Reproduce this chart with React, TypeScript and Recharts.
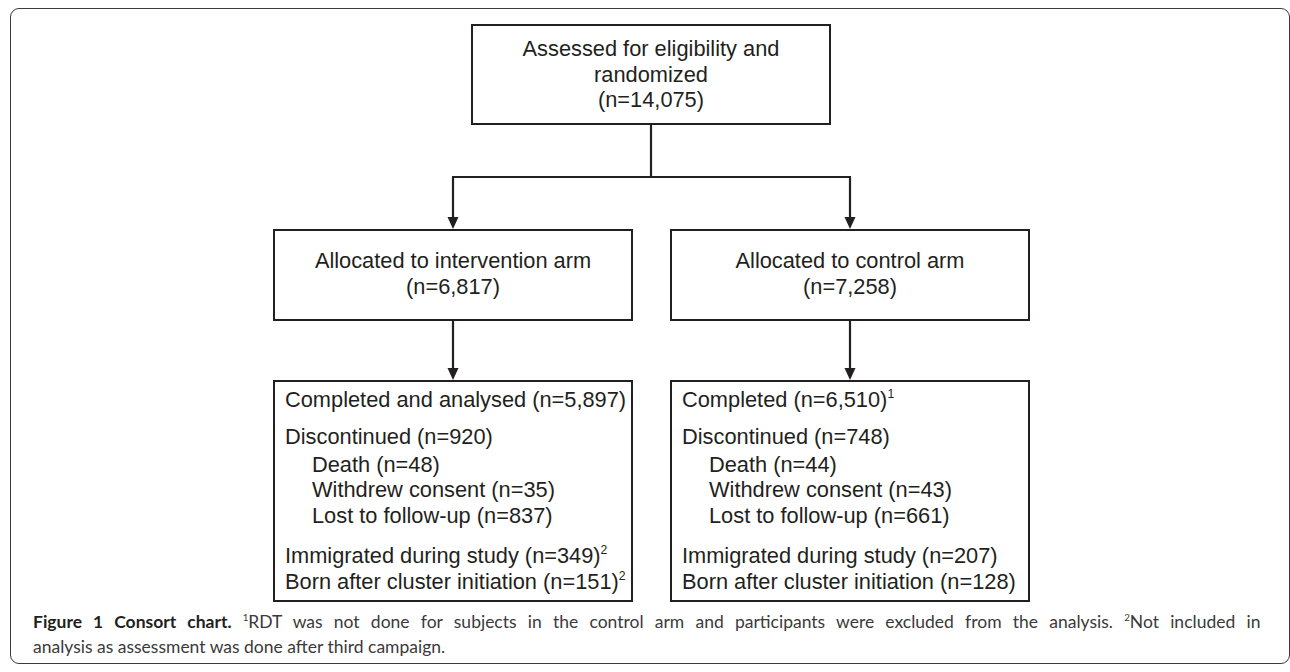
import { ScatterChart, Scatter, XAxis, YAxis, ReferenceArea, ReferenceLine } from 'recharts';

// counts
const assessedLines = ['Assessed for eligibility and', 'randomized'];
const assessedTotal = 14075;
const arms = ['intervention', 'control'];
const allocated = [6817, 7258];
const completedLabels = ['Completed and analysed', 'Completed'];
const completed = [5897, 6510];
const completedNotes = ['', '1'];
const discontinued = [920, 748];
const reasons = ['Death', 'Withdrew consent', 'Lost to follow-up'];
const interventionReasons = [48, 35, 837];
const controlReasons = [44, 43, 661];
const immigrated = [349, 207];
const bornAfter = [151, 128];
const extraNotes = ['2', ''];
const captionTitle = 'Figure 1 Consort chart.';
const captionNote1 = 'RDT was not done for subjects in the control arm and participants were excluded from the analysis.';
const captionNote2 = ['Not included in', 'analysis as assessment was done after third campaign.'];

// layout (page pixels)
const W = 1290;
const H = 672;
const topBox = { x1: 472, x2: 830, y1: 25, y2: 124 };
const armX = [[274, 632], [671, 1029]];
const allocY = [230, 320];
const resultY = [381, 601];
const splitY = 177;
const topBaselines = [56, 82, 107];
const allocBaselines = [268, 294];
const resultBaselines = [407, 444, 472, 497, 523, 563, 589];
const captionBaselines = [628, 653];

const INK = '#231f20';
const BOX_FONT = '"Liberation Sans", Arial, Helvetica, sans-serif';
const BOX_SIZE = 21.8;
const CAP_FONT = 'Lato, "Open Sans", sans-serif';
const CAP_SIZE = 17.5;

const n = (v: number) => `(n=${v.toLocaleString('en-US')})`;

type Part = { t: string; bold?: boolean; sup?: boolean };
type TextItem = {
  x: number;
  y: number;
  anchor?: string;
  parts: Part[];
  family: string;
  size: number;
  color: string;
  justify?: number;
};

const boxText = (x: number, y: number, parts: Part[], anchor = 'start'): TextItem => ({
  x, y, anchor, parts, family: BOX_FONT, size: BOX_SIZE, color: INK,
});

const textItems: TextItem[] = [];
const topCx = (topBox.x1 + topBox.x2) / 2;
[...assessedLines, n(assessedTotal)].forEach((t, i) =>
  textItems.push(boxText(topCx, topBaselines[i], [{ t }], 'middle'))
);

arms.forEach((arm, i) => {
  const cx = (armX[i][0] + armX[i][1]) / 2;
  const left = armX[i][0] + 11;
  const indent = armX[i][0] + 38;
  const rc = i === 0 ? interventionReasons : controlReasons;
  textItems.push(boxText(cx, allocBaselines[0], [{ t: `Allocated to ${arm} arm` }], 'middle'));
  textItems.push(boxText(cx, allocBaselines[1], [{ t: n(allocated[i]) }], 'middle'));

  const withNote = (t: string, note: string): Part[] => (note ? [{ t }, { t: note, sup: true }] : [{ t }]);
  textItems.push(boxText(left, resultBaselines[0], withNote(`${completedLabels[i]} ${n(completed[i])}`, completedNotes[i])));
  textItems.push(boxText(left, resultBaselines[1], [{ t: `Discontinued ${n(discontinued[i])}` }]));
  reasons.forEach((r, k) => textItems.push(boxText(indent, resultBaselines[2 + k], [{ t: `${r} ${n(rc[k])}` }])));
  textItems.push(boxText(left, resultBaselines[5], withNote(`Immigrated during study ${n(immigrated[i])}`, extraNotes[i])));
  textItems.push(boxText(left, resultBaselines[6], withNote(`Born after cluster initiation ${n(bornAfter[i])}`, extraNotes[i])));
});

textItems.push({
  x: 33, y: captionBaselines[0], family: CAP_FONT, size: CAP_SIZE, color: '#3a3a3a', justify: 1229,
  parts: [
    { t: `${captionTitle} `, bold: true },
    { t: '1', sup: true },
    { t: `${captionNote1} ` },
    { t: '2', sup: true },
    { t: captionNote2[0] },
  ],
});
textItems.push({
  x: 33, y: captionBaselines[1], family: CAP_FONT, size: CAP_SIZE, color: '#3a3a3a',
  parts: [{ t: captionNote2[1] }],
});

const arrowTips = [
  { x: (armX[0][0] + armX[0][1]) / 2, y: allocY[0] - 1 },
  { x: (armX[1][0] + armX[1][1]) / 2, y: allocY[0] - 1 },
  { x: (armX[0][0] + armX[0][1]) / 2, y: resultY[0] - 1 },
  { x: (armX[1][0] + armX[1][1]) / 2, y: resultY[0] - 1 },
];

let ctx: CanvasRenderingContext2D | null = null;
const measure = (text: string, font: string) => {
  if (!ctx) ctx = document.createElement('canvas').getContext('2d');
  if (!ctx) return text.length * 8;
  ctx.font = font;
  return ctx.measureText(text).width;
};

const TextMark = (props: any) => {
  const { cx, cy, payload } = props;
  const p: TextItem = payload;
  const supSize = p.size * 0.56;
  const rise = p.size * 0.42;
  let wordSpacing = 0;
  if (p.justify) {
    let natural = 0;
    let spaces = 0;
    p.parts.forEach((part) => {
      const sz = part.sup ? supSize : p.size;
      natural += measure(part.t, `${part.bold ? 'bold ' : ''}${sz}px ${p.family}`);
      spaces += (part.t.match(/ /g) || []).length;
    });
    wordSpacing = spaces ? Math.max(0, (p.justify - natural) / spaces) : 0;
  }
  let raised = false;
  return (
    <text
      x={cx}
      y={cy}
      textAnchor={p.anchor || 'start'}
      fontFamily={p.family}
      fontSize={p.size}
      fill={p.color}
      style={{ wordSpacing }}
    >
      {p.parts.map((part, k) => {
        if (part.sup) {
          raised = true;
          return (
            <tspan key={k} dy={-rise} fontSize={supSize}>
              {part.t}
            </tspan>
          );
        }
        const dy = raised ? rise : 0;
        raised = false;
        return (
          <tspan key={k} dy={dy} fontWeight={part.bold ? 700 : 400} fill={part.bold ? INK : p.color}>
            {part.t}
          </tspan>
        );
      })}
    </text>
  );
};

const ArrowHead = (props: any) => {
  const { cx, cy } = props;
  return <polygon points={`${cx - 5.5},${cy - 12} ${cx + 5.5},${cy - 12} ${cx},${cy}`} fill={INK} />;
};

const lineProps = { stroke: INK, strokeWidth: 2.2, ifOverflow: 'visible' as const };
const boxProps = { fill: 'none', stroke: INK, strokeWidth: 2, fillOpacity: 0, ifOverflow: 'visible' as const };

export default function App() {
  const lc = (armX[0][0] + armX[0][1]) / 2;
  const rc = (armX[1][0] + armX[1][1]) / 2;
  return (
    <div style={{ position: 'absolute', left: 0, top: 0, width: W, height: H, background: '#fff' }}>
      <ScatterChart width={W} height={H} margin={{ top: 0, right: 0, bottom: 0, left: 0 }}>
        <XAxis type="number" dataKey="x" domain={[0, W]} hide />
        <YAxis type="number" dataKey="y" domain={[0, H]} reversed hide />

        <ReferenceArea {...boxProps} x1={topBox.x1} x2={topBox.x2} y1={topBox.y1} y2={topBox.y2} />
        {armX.map(([x1, x2], i) => (
          <ReferenceArea key={`a${i}`} {...boxProps} x1={x1} x2={x2} y1={allocY[0]} y2={allocY[1]} />
        ))}
        {armX.map(([x1, x2], i) => (
          <ReferenceArea key={`r${i}`} {...boxProps} x1={x1} x2={x2} y1={resultY[0]} y2={resultY[1]} />
        ))}

        <ReferenceLine {...lineProps} segment={[{ x: topCx, y: topBox.y2 }, { x: topCx, y: splitY }]} />
        <ReferenceLine {...lineProps} segment={[{ x: lc - 1, y: splitY }, { x: rc + 1, y: splitY }]} />
        <ReferenceLine {...lineProps} segment={[{ x: lc, y: splitY }, { x: lc, y: allocY[0] - 10 }]} />
        <ReferenceLine {...lineProps} segment={[{ x: rc, y: splitY }, { x: rc, y: allocY[0] - 10 }]} />
        <ReferenceLine {...lineProps} segment={[{ x: lc, y: allocY[1] }, { x: lc, y: resultY[0] - 10 }]} />
        <ReferenceLine {...lineProps} segment={[{ x: rc, y: allocY[1] }, { x: rc, y: resultY[0] - 10 }]} />

        <Scatter data={arrowTips} shape={ArrowHead} isAnimationActive={false} />
        <Scatter data={textItems} shape={TextMark} isAnimationActive={false} />
      </ScatterChart>
      <div
        style={{
          position: 'absolute',
          left: 10,
          top: 8,
          width: 1280,
          height: 656,
          boxSizing: 'border-box',
          border: '1.6px solid #3a3a3a',
          borderRadius: 9,
          pointerEvents: 'none',
        }}
      />
    </div>
  );
}
